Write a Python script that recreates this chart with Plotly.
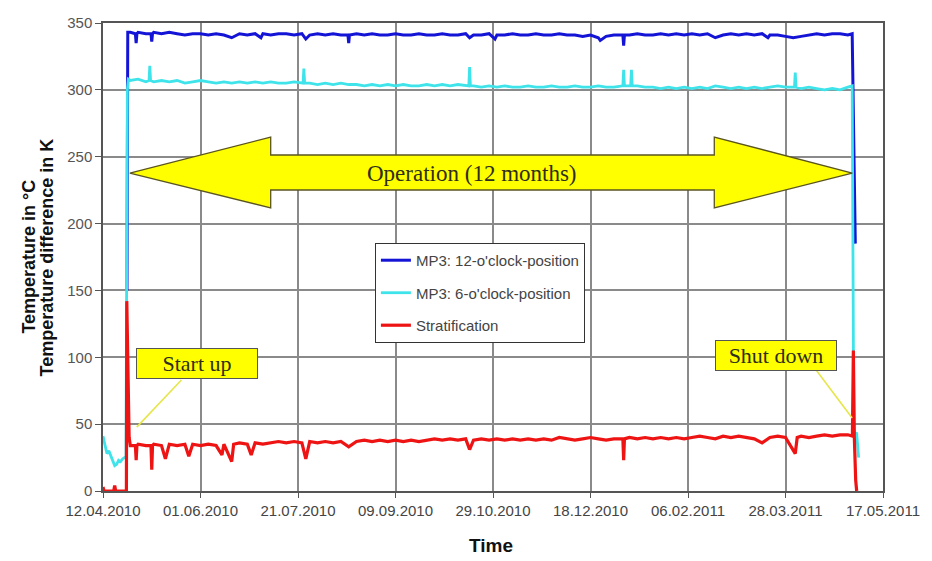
import pandas as pd
import plotly.graph_objects as go

# ---------------- data ----------------
start_date = "2010-04-12"
tick_dates = ["2010-04-12", "2010-06-01", "2010-07-21", "2010-09-09", "2010-10-29",
              "2010-12-18", "2011-02-06", "2011-03-28", "2011-05-17"]
y_ticks = [0, 50, 100, 150, 200, 250, 300, 350]

names = ["MP3: 12-o'clock-position", "MP3: 6-o'clock-position", "Stratification"]

# MP3 12 o'clock (days after 12.04.2010, temperature in °C)
blue_days = [12.3, 12.7, 14, 16.6, 17, 17.4, 18, 22, 24.6, 25, 25.4, 26, 30, 34, 38, 42, 46, 50, 54, 58,
             62, 66, 70, 74, 78, 81, 82, 86, 90, 94, 98, 102, 104, 106, 110, 114, 118, 122, 125.6, 126,
             126.4, 130, 134, 138, 142, 146, 150, 154, 158, 162, 166, 170, 174, 178, 182, 186, 188, 190,
             194, 198, 201, 202, 206, 210, 214, 218, 222, 226, 230, 234, 238, 242, 246, 250, 254, 255,
             258, 262, 266.6, 267, 267.4, 270, 274, 278, 282, 286, 290, 294, 298, 302, 306, 310, 314,
             318, 322, 326, 330, 334, 338, 341, 342, 346, 350, 354, 358, 362, 366, 370, 374, 378, 382,
             384.2, 384.6, 385.4, 385.8]
blue_vals = [150, 343, 343, 342, 335, 342, 343, 342, 342, 336, 342, 343, 342, 343, 342, 341, 342, 342, 341, 342,
             341, 339, 342, 341, 342, 339, 342, 341, 342, 342, 341, 342, 338, 341, 342, 341, 342, 341, 341, 335,
             341, 342, 341, 342, 341, 341, 342, 341, 341, 342, 341, 341, 342, 341, 341, 342, 339, 341,
             341, 342, 338, 341, 341, 342, 341, 341, 342, 341, 341, 342, 341, 341, 340, 341, 339, 337,
             340, 341, 341, 333, 341, 341, 342, 341, 341, 342, 341, 342, 341, 342, 341, 342, 339,
             341, 342, 341, 342, 341, 342, 339, 341, 341, 340, 339, 340, 341, 342, 341, 342, 342, 341,
             342, 300, 225, 185]

# MP3 6 o'clock
cyan_days = [0, 1, 2, 3, 4, 5, 6, 7, 8, 9, 10, 11, 11.8, 12.1, 12.5, 13, 14, 18, 22, 23.6, 24, 24.4, 26, 30,
             34, 38, 42, 46, 50, 54, 58, 62, 66, 70, 74, 78, 82, 86, 90, 94, 98, 102.6, 103, 103.4, 106,
             110, 114, 118, 122, 126, 130, 134, 138, 142, 146, 150, 154, 158, 162, 166, 170, 174, 178, 182,
             186, 187.6, 188, 188.4, 190, 194, 198, 202, 206, 210, 214, 218, 222, 226, 230, 234, 238, 242,
             246, 250, 254, 258, 262, 266.6, 267, 267.4, 270.6, 271, 271.4, 274, 278, 282, 286, 290, 294,
             298, 302, 306, 310, 314, 318, 322, 326, 330, 334, 338, 342, 346, 350, 354.6, 355, 355.4, 358,
             362, 366, 370, 374, 378, 382, 384.2, 384.6, 385, 386.5, 387.5]
cyan_vals = [41, 34, 28, 30, 26, 22, 19, 20, 23, 22, 24, 25, 26, 150, 300, 308, 307, 308, 306, 307, 318, 307, 306, 307,
             306, 307, 305, 306, 307, 306, 305, 306, 305, 306, 305, 306, 305, 306, 305, 305, 306, 305, 316, 305, 305,
             304, 305, 304, 305, 304, 304, 303, 304, 303, 304, 303, 304, 303, 303, 304, 303, 304, 303, 304,
             303, 303, 317, 303, 303, 302, 303, 302, 303, 302, 302, 303, 302, 302, 303, 302, 302, 303,
             302, 302, 303, 302, 302, 303, 315, 303, 303, 315, 303, 303, 302, 302, 301, 302, 301,
             302, 301, 302, 301, 303, 302, 301, 302, 301, 302, 301, 302, 303, 302, 302, 313, 302, 301,
             302, 301, 300, 301, 300, 302, 303, 180, 44, 43, 25]

# Stratification (temperature difference in K)
red_days = [0, 0.5, 2, 3, 5.5, 6, 6.5, 9, 12, 12.2, 12.6, 13, 13.4, 14, 16.6, 17, 17.4, 18, 22, 24.6, 25, 25.4,
            26, 30, 32, 34, 38, 42, 44, 46, 50, 54, 58, 61, 62, 66, 67, 70, 74, 76, 78, 82, 86, 90, 94, 98,
            102, 104, 106, 110, 114, 118, 122, 126, 130, 134, 138, 142, 146, 150, 154, 158, 162, 166, 170,
            174, 178, 182, 186, 188, 190, 194, 198, 202, 206, 210, 214, 218, 222, 226, 230, 234, 238, 242,
            246, 250, 254, 258, 262, 266.6, 267, 267.4, 270, 274, 278, 282, 286, 290, 294, 298, 302, 306,
            310, 314, 318, 322, 326, 330, 334, 338, 342, 346, 350, 355, 356, 358, 362, 366, 370, 374, 378,
            382, 384.3, 384.8, 385.3, 386, 386.5, 387]
red_vals = [3, 0, 0, 0, 0, 4, 0, 0, 0, 142, 110, 60, 40, 34, 34, 23, 34, 35, 34, 34, 16, 34,
            35, 34, 24, 35, 34, 35, 26, 35, 34, 35, 34, 27, 35, 22, 35, 36, 35, 27, 36, 35, 36, 37, 36, 37,
            36, 24, 37, 36, 37, 36, 37, 33, 37, 38, 37, 38, 37, 38, 37, 38, 37, 38, 39,
            38, 39, 38, 39, 31, 38, 39, 38, 39, 38, 39, 38, 39, 38, 39, 38, 40, 39, 38,
            39, 40, 39, 38, 39, 39, 23, 39, 40, 39, 40, 39, 40, 39, 40, 39, 40, 41,
            40, 39, 41, 40, 41, 40, 39, 36, 40, 41, 40, 28, 40, 41, 40, 41, 42, 41, 42,
            42, 41, 105, 40, 8, 0, 0]

colors = ["#1414d6", "#3fe3ea", "#ee1414"]
widths = [3.0, 2.8, 3.2]

# ---------------- figure ----------------
base = pd.Timestamp(start_date)


def to_dates(days):
    return base + pd.to_timedelta(days, unit="D")


fig = go.Figure()
for i, (d, v) in enumerate([(blue_days, blue_vals), (cyan_days, cyan_vals), (red_days, red_vals)]):
    fig.add_trace(go.Scatter(x=to_dates(d), y=v, mode="lines", name=names[i],
                             legendgroup=f"g{i}",
                             line=dict(color=colors[i], width=widths[i])))

font_sans = "Liberation Sans, Arial, sans-serif"
font_serif = "Liberation Serif, Times New Roman, serif"

fig.update_layout(
    width=932, height=561,
    margin=dict(l=103, r=43, t=23, b=70),
    paper_bgcolor="white", plot_bgcolor="white",
    font=dict(family=font_sans, size=14, color="#444"),
    legend=dict(x=0.3486, y=0.53, xanchor="left", yanchor="top",
                bgcolor="white", bordercolor="#333", borderwidth=1,
                font=dict(family=font_sans, size=15, color="#444"),
                tracegroupgap=10, itemwidth=30, traceorder="grouped"),
    showlegend=True,
)

fig.update_xaxes(type="date", range=[tick_dates[0], tick_dates[-1]],
                 tickvals=tick_dates, tickformat="%d.%m.%Y",
                 showgrid=True, gridcolor="#8a8a8a", gridwidth=1.6,
                 showline=True, linecolor="#555", linewidth=1.5, mirror=True,
                 ticks="outside", ticklen=5, tickcolor="#555",
                 tickfont=dict(family=font_sans, size=15, color="#444"), zeroline=False)
fig.update_yaxes(range=[0, 350], tickvals=y_ticks,
                 showgrid=True, gridcolor="#8a8a8a", gridwidth=1.6,
                 showline=True, linecolor="#555", linewidth=1.5, mirror=True,
                 ticks="outside", ticklen=6, tickcolor="#555",
                 tickfont=dict(family=font_sans, size=15, color="#555"), zeroline=False)

# axis titles
fig.add_annotation(text="<b>Temperature in °C</b>", xref="paper", yref="paper", x=-0.0954, y=0.5,
                   xanchor="center", yanchor="middle",
                   textangle=-90, showarrow=False, font=dict(family=font_sans, size=18, color="#111"))
fig.add_annotation(text="<b>Temperature difference in K</b>", xref="paper", yref="paper", x=-0.0712, y=0.5,
                   xanchor="center", yanchor="middle",
                   textangle=-90, showarrow=False, font=dict(family=font_sans, size=18, color="#111"))
fig.add_annotation(text="<b>Time</b>", xref="paper", yref="paper", x=0.497, y=-0.1154,
                   xanchor="center", yanchor="middle",
                   showarrow=False, font=dict(family=font_sans, size=19, color="#111"))

# big double arrow "Operation (12 months)"
tipL, baseL, baseR, tipR = 0.0344, 0.215, 0.7837, 0.9606
y_tip, y_ht, y_hb, y_st, y_sb = 237.8, 264.7, 211.7, 251.3, 225.1
path = (f"M{tipL},{y_tip} L{baseL},{y_ht} L{baseL},{y_st} L{baseR},{y_st} L{baseR},{y_ht} "
        f"L{tipR},{y_tip} L{baseR},{y_hb} L{baseR},{y_sb} L{baseL},{y_sb} L{baseL},{y_hb} Z")
fig.add_shape(type="path", path=path, xref="paper", yref="y",
              fillcolor="#ffff00", line=dict(color="#5a5420", width=1.3), layer="above")
fig.add_annotation(text="Operation (12 months)", xref="paper", yref="y", x=0.473, y=y_tip,
                   showarrow=False, font=dict(family=font_serif, size=23, color="#2e2e1a"))

# callouts
def d2s(day):
    return (base + pd.Timedelta(days=day)).strftime("%Y-%m-%d %H:%M")

fig.add_shape(type="line", xref="x", yref="y", x0=d2s(40.2), y0=83, x1=d2s(17.3), y1=47.8,
              line=dict(color="#e6e64a", width=1.6), layer="above")
fig.add_shape(type="line", xref="x", yref="y", x0=d2s(365.7), y0=90.5, x1=d2s(384.2), y1=54.6,
              line=dict(color="#e6e64a", width=1.6), layer="above")

fig.add_annotation(text="Start up", xref="x", yref="y", x=d2s(48.3), y=95,
                   showarrow=False, width=118, height=27, bgcolor="#ffff00",
                   bordercolor="#555", borderwidth=1, borderpad=1,
                   font=dict(family=font_serif, size=22, color="#2e2e1a"))
fig.add_annotation(text="Shut down", xref="x", yref="y", x=d2s(345.3), y=101.7,
                   showarrow=False, width=118, height=27, bgcolor="#ffff00",
                   bordercolor="#555", borderwidth=1, borderpad=1,
                   font=dict(family=font_serif, size=22, color="#2e2e1a"))

fig.write_html("out.html", config={"displayModeBar": False},
               post_script="document.body.style.margin='0';")
